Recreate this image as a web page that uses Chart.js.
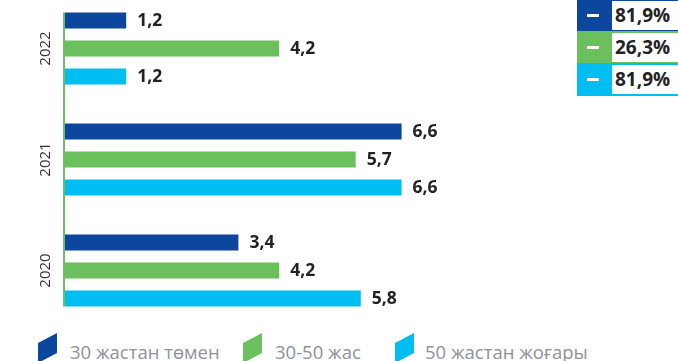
<!DOCTYPE html>
<html>
<head>
<meta charset="utf-8">
<script src="https://cdn.jsdelivr.net/npm/chart.js@4/dist/chart.umd.min.js"></script>
<style>
  html, body { margin: 0; padding: 0; background: #fff; }
  body { width: 678px; height: 361px; position: relative; overflow: hidden; font-family: "Open Sans", sans-serif; }
  #wrap { position: absolute; left: 0; top: -7px; width: 678px; height: 333px; }
  .share { position: absolute; left: 577px; width: 101px; height: 33px; }
  .share .sq { position: absolute; left: 0; top: 0; width: 33px; height: 100%; }
  .share .sq::after { content: ""; position: absolute; left: 10px; width: 12px; height: 3px; top: calc(50% - 1.5px); background: #fff; }
  .share .box { position: absolute; left: 33px; top: 0; right: 0; bottom: 0; box-sizing: border-box; border: 2px solid; border-right: none; background: #fff;
                font-weight: 700; font-size: 19px; color: #222; line-height: 29px; padding-left: 3px; }
  .leg { position: absolute; top: 333px; height: 28px; }
  .leg svg { position: absolute; left: 0; top: 0; }
  .leg span { position: absolute; top: 7px; white-space: nowrap; font-size: 18.5px; font-weight: 400; color: #8d9297; line-height: 24px; }
</style>
</head>
<body>
<div id="wrap"><canvas id="c"></canvas></div>
<div id="shares"></div>
<div id="legend"></div>
<script>
// Years top to bottom, and one array of values per age group
const years = ['2022', '2021', '2020'];
const under30 = [1.2, 6.6, 3.4];
const age30to50 = [4.2, 5.7, 4.2];
const over50 = [1.2, 6.6, 5.8];

const groupNames = ['30 жастан төмен', '30-50 жас', '50 жастан жоғары'];
const groupColors = ['#0c479d', '#6bbf5c', '#00bdf2'];
const shareLabels = ['81,9%', '26,3%', '81,9%'];

const fmt = v => v.toFixed(1).replace('.', ',');

// Year captions, the green baseline and value labels beside each bar
const decor = {
  id: 'decor',
  afterDatasetsDraw(chart) {
    const ctx = chart.ctx;
    const x0 = chart.scales.x.getPixelForValue(0);
    const yScale = chart.scales.y;

    // baseline from the first bar's top to the last bar's bottom
    const first = chart.getDatasetMeta(0).data[0];
    const lastMeta = chart.getDatasetMeta(chart.data.datasets.length - 1);
    const last = lastMeta.data[lastMeta.data.length - 1];
    ctx.save();
    ctx.strokeStyle = '#6bbf5c';
    ctx.lineWidth = 2;
    ctx.beginPath();
    ctx.moveTo(x0 - 1, first.y - first.height / 2);
    ctx.lineTo(x0 - 1, last.y + last.height / 2);
    ctx.stroke();

    // value labels
    ctx.font = '700 17.5px "Open Sans", sans-serif';
    ctx.fillStyle = '#222';
    ctx.textBaseline = 'middle';
    ctx.textAlign = 'left';
    chart.data.datasets.forEach((ds, di) => {
      chart.getDatasetMeta(di).data.forEach((bar, i) => {
        ctx.fillText(fmt(ds.data[i]), bar.x + 11, bar.y + 1);
      });
    });

    // rotated year captions
    ctx.font = '15px "Open Sans", sans-serif';
    ctx.fillStyle = '#333';
    ctx.textAlign = 'center';
    years.forEach((y, i) => {
      const py = yScale.getPixelForValue(i);
      ctx.save();
      ctx.translate(46, py);
      ctx.rotate(-Math.PI / 2);
      ctx.fillText(y, 0, 0);
      ctx.restore();
    });
    ctx.restore();
  }
};

new Chart(document.getElementById('c'), {
  type: 'bar',
  data: {
    labels: years,
    datasets: [
      { label: groupNames[0], data: under30, backgroundColor: groupColors[0] },
      { label: groupNames[1], data: age30to50, backgroundColor: groupColors[1] },
      { label: groupNames[2], data: over50, backgroundColor: groupColors[2] }
    ]
  },
  options: {
    indexAxis: 'y',
    responsive: true,
    maintainAspectRatio: false,
    animation: false,
    categoryPercentage: 0.757,
    barPercentage: 0.571,
    layout: { padding: { left: 65, right: 103, top: 0, bottom: 0 } },
    scales: {
      x: { display: false, min: 0, max: 10 },
      y: { display: false }
    },
    plugins: { legend: { display: false }, tooltip: { enabled: false } }
  },
  plugins: [decor]
});

// Share boxes at the top right
const shares = document.getElementById('shares');
shareLabels.forEach((t, i) => {
  const d = document.createElement('div');
  d.className = 'share';
  d.style.top = (i * 32 - 1) + 'px';
  d.innerHTML = '<div class="sq" style="background:' + groupColors[i] + '"></div>' +
                '<div class="box" style="border-color:' + groupColors[i] + '">' + t + '</div>';
  shares.appendChild(d);
});

// Legend with slanted swatches
const legend = document.getElementById('legend');
const legX = [38, 243, 395];
groupNames.forEach((n, i) => {
  const d = document.createElement('div');
  d.className = 'leg';
  d.style.left = legX[i] + 'px';
  d.innerHTML = '<svg width="20" height="30"><polygon points="0,10 19,0 19,20 0,30" fill="' + groupColors[i] + '"/></svg>' +
                '<span style="left:' + (i === 2 ? 30 : 32) + 'px">' + n + '</span>';
  legend.appendChild(d);
});
</script>
</body>
</html>
